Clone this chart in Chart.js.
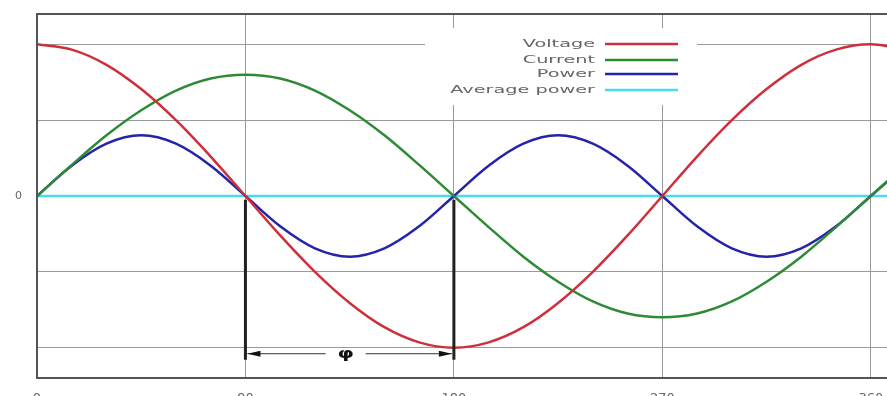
<!DOCTYPE html>
<html>
<head>
<meta charset="utf-8">
<script src="https://cdn.jsdelivr.net/npm/chart.js@4/dist/chart.umd.min.js"></script>
<style>
  html, body { margin: 0; padding: 0; background: #fff; overflow: hidden; }
  #wrap { width: 887px; height: 396px; }
</style>
</head>
<body>
<div id="wrap"><canvas id="powerChart"></canvas></div>
<script>
// phase angle in degrees (last point runs past the right edge)
const degrees = [0,15,30,45,60,75,90,105,120,135,150,165,180,195,210,225,240,255,270,285,300,315,330,345,360,375]
const voltage = [2,1.93,1.73,1.41,1,0.52,0,-0.52,-1,-1.41,-1.73,-1.93,-2,-1.93,-1.73,-1.41,-1,-0.52,0,0.52,1,1.41,1.73,1.93,2,1.93]
const current = [0,0.41,0.8,1.13,1.39,1.55,1.6,1.55,1.39,1.13,0.8,0.41,0,-0.41,-0.8,-1.13,-1.39,-1.55,-1.6,-1.55,-1.39,-1.13,-0.8,-0.41,0,0.41]
const power = [0,0.4,0.69,0.8,0.69,0.4,0,-0.4,-0.69,-0.8,-0.69,-0.4,0,0.4,0.69,0.8,0.69,0.4,0,-0.4,-0.69,-0.8,-0.69,-0.4,0,0.4]
const avgPower = [0,0,0,0,0,0,0,0,0,0,0,0,0,0,0,0,0,0,0,0,0,0,0,0,0,0]
const xTicks = [0,90,180,270,360]
const yTicks = [-2,-1,0,1,2]
// phase shift marker: from 90 to 180 degrees
const phaseFrom = 90, phaseTo = 180

const pts = arr => arr.map((v,i) => ({x: degrees[i], y: v}))

const ctx = document.getElementById('powerChart')

// frame, white legend box and phase marker
const extras = {
    id: 'extras',
    beforeDatasetsDraw(chart){
        const c = chart.ctx
        c.save()
        // legend box covers the grid
        c.fillStyle = '#fff'
        c.fillRect(425, 28, 272, 77)
        const rows = [44, 60, 74, 90]
        chart.data.datasets.forEach((ds,i) => {
            // text is stretched sideways like the source image
            c.save()
            c.translate(595, rows[i])
            c.scale(1.75, 1)
            c.font = '11px "DejaVu Sans"'
            c.textAlign = 'right'
            c.textBaseline = 'middle'
            c.fillStyle = '#666'
            c.fillText(ds.label, 0, 0)
            c.restore()
            c.strokeStyle = ds.borderColor
            c.lineWidth = 2.5
            c.beginPath()
            c.moveTo(605, rows[i]); c.lineTo(678, rows[i])
            c.stroke()
        })
        c.restore()
    },
    afterDraw(chart){
        const c = chart.ctx, a = chart.chartArea
        const x = chart.scales.x, y = chart.scales.y
        c.save()
        // frame
        c.strokeStyle = '#555'
        c.lineWidth = 2
        c.strokeRect(a.left, a.top, a.right - a.left + 5, a.bottom - a.top)
        // heavy vertical markers
        const x1 = x.getPixelForValue(phaseFrom), x2 = x.getPixelForValue(phaseTo)
        const yTop = y.getPixelForValue(-0.05), yBot = y.getPixelForValue(-2.16)
        c.strokeStyle = '#222'
        c.lineWidth = 3
        c.beginPath()
        c.moveTo(x1, yTop); c.lineTo(x1, yBot)
        c.moveTo(x2, yTop); c.lineTo(x2, yBot)
        c.stroke()
        // arrow with phi
        const ya = y.getPixelForValue(-2.08)
        const xm = (x1 + x2) / 2 - 6
        c.lineWidth = 1
        c.strokeStyle = '#333'
        c.beginPath()
        c.moveTo(x1 + 2, ya); c.lineTo(xm - 18, ya)
        c.moveTo(xm + 22, ya); c.lineTo(x2 - 2, ya)
        c.stroke()
        c.fillStyle = '#111'
        c.beginPath()
        c.moveTo(x1 + 2, ya); c.lineTo(x1 + 15, ya - 3); c.lineTo(x1 + 15, ya + 3); c.closePath()
        c.moveTo(x2 - 2, ya); c.lineTo(x2 - 15, ya - 3); c.lineTo(x2 - 15, ya + 3); c.closePath()
        c.fill()
        c.translate(xm + 2, ya + 1)
        c.scale(1.5, 1)
        c.font = 'bold 14px "DejaVu Sans"'
        c.textAlign = 'center'
        c.textBaseline = 'middle'
        c.fillText('φ', 0, 0)
        c.restore()
    }
}

new Chart(
    ctx,{
        type:'line',
        data: {
            datasets:[
                {label:'Voltage', data: pts(voltage), borderColor:'#cf2f3a'},
                {label:'Current', data: pts(current), borderColor:'#2e8a35'},
                {label:'Power', data: pts(power), borderColor:'#2424a8'},
                {label:'Average power', data: pts(avgPower), borderColor:'#48dcec'}
            ]
        },
        options: {
            responsive: true,
            maintainAspectRatio: false,
            animation: false,
            layout: {padding: {top: 14, left: 0, right: 0, bottom: 0}},
            elements: {
                line: {borderWidth: 2.5, cubicInterpolationMode: 'monotone', fill: false},
                point: {radius: 0}
            },
            plugins: {legend: {display: false}, tooltip: {enabled: false}},
            scales: {
                x: {
                    type: 'linear',
                    min: 0,
                    max: 367,
                    afterBuildTicks: s => { s.ticks = xTicks.map(v => ({value: v})) },
                    afterFit: s => { s.height = 18; s.paddingLeft = 0; s.paddingRight = 0 },
                    grid: {color: '#9a9a9a', lineWidth: 1, drawTicks: false},
                    border: {display: false},
                    ticks: {color: '#666', font: {size: 13, family: 'DejaVu Sans'}, padding: 13, maxRotation: 0}
                },
                y: {
                    min: -2.4,
                    max: 2.4,
                    afterBuildTicks: s => { s.ticks = yTicks.map(v => ({value: v})) },
                    afterFit: s => { s.width = 37; s.paddingTop = 0; s.paddingBottom = 0 },
                    grid: {color: '#9a9a9a', lineWidth: 1, drawTicks: false},
                    border: {display: false},
                    ticks: {
                        color: '#666',
                        font: {size: 11, family: 'DejaVu Sans'},
                        padding: 15,
                        callback: v => v === 0 ? '0' : ''
                    }
                }
            }
        },
        plugins: [extras]
    }
)
</script>
</body>
</html>
